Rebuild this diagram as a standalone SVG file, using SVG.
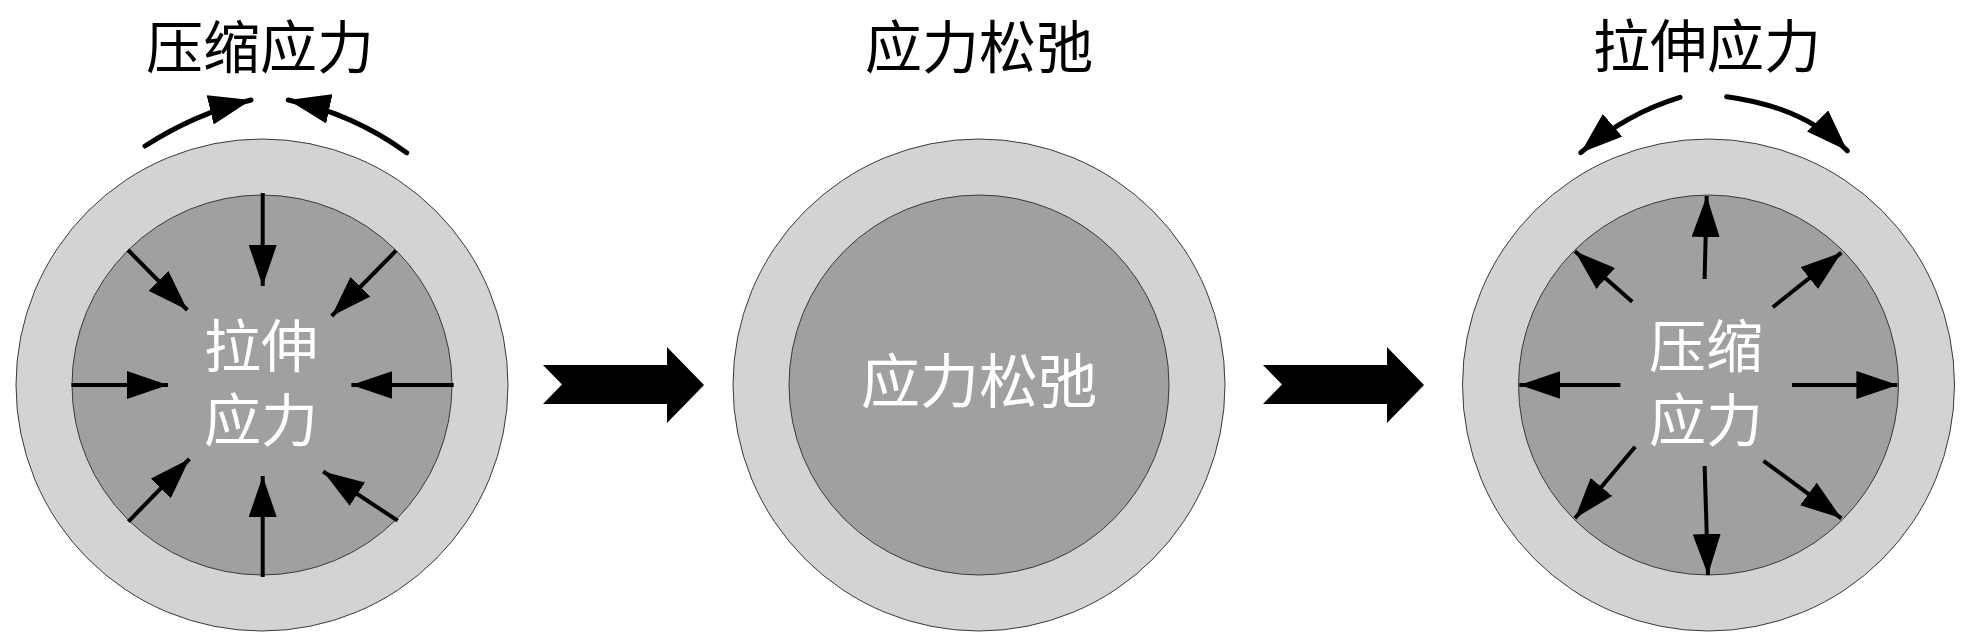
<svg xmlns="http://www.w3.org/2000/svg" width="1969" height="644" viewBox="0 0 1969 644">
<style>
.outer{fill:#d3d3d3;stroke:#3a3a3a;stroke-width:1}
.inner{fill:#a0a0a0;stroke:#3a3a3a;stroke-width:1}
.title{font-family:"Noto Sans CJK SC","Noto Sans CJK JP",sans-serif;font-size:57px;fill:#000;text-anchor:middle}
.label{font-family:"Noto Sans CJK SC","Noto Sans CJK JP",sans-serif;font-size:57px;fill:#fff;text-anchor:middle}
.sa{stroke:#000;stroke-width:4;fill:none;marker-end:url(#head)}
.ca{stroke:#000;stroke-width:5;fill:none;stroke-linecap:round;marker-end:url(#chead)}
.block{fill:#000}
</style>
<defs>
<marker id="head" markerUnits="userSpaceOnUse" markerWidth="41" markerHeight="28" refX="41" refY="14" orient="auto" viewBox="0 0 41 28">
<path d="M0,0 L41,14 L0,28 z" fill="#000"/>
</marker>
<marker id="chead" markerUnits="userSpaceOnUse" markerWidth="42" markerHeight="30" refX="42" refY="15" orient="auto" viewBox="0 0 42 30">
<path d="M0,0 L42,15 L0,30 z" fill="#000"/>
</marker>
</defs>
<rect width="1969" height="644" fill="#fff"/>

<g id="node-left">
<circle class="outer" cx="262" cy="385" r="246"/>
<circle class="inner" cx="262" cy="385" r="190"/>
<text class="title" x="260" y="68">压缩应力</text>
<text class="label" x="261" y="367">拉伸</text>
<text class="label" x="261" y="441">应力</text>
</g>

<g id="node-middle">
<circle class="outer" cx="979" cy="385" r="246"/>
<circle class="inner" cx="979" cy="385" r="190"/>
<text class="title" x="979" y="68">应力松弛</text>
<text class="label" x="979" y="403" style="font-size:59px">应力松弛</text>
</g>

<g id="node-right">
<circle class="outer" cx="1708.5" cy="385" r="246"/>
<circle class="inner" cx="1708.5" cy="385" r="190"/>
<text class="title" x="1707" y="67">拉伸应力</text>
<text class="label" x="1706" y="367">压缩</text>
<text class="label" x="1706" y="441">应力</text>
</g>

<g id="connectors">
<polygon class="block" points="543,365 667,365 667,347 704,385 667,423 667,404 543,404 562,384.5"/>
<polygon class="block" points="1263,365 1387,365 1387,347 1424,385 1387,423 1387,404 1263,404 1282,384.5"/>

<path class="ca" d="M145,146 Q196,113.3 251,100"/>
<path class="ca" d="M406.7,152.7 Q353.4,114 288.3,100"/>
<path class="ca" d="M1680,97.3 Q1626.5,113.4 1580.7,152.7"/>
<path class="ca" d="M1726.7,96.7 Q1803.4,106.8 1847.3,150.7"/>

<line class="sa" x1="262.7" y1="193" x2="262.7" y2="286"/>
<line class="sa" x1="262.7" y1="577" x2="262.7" y2="476"/>
<line class="sa" x1="71.5" y1="385" x2="168" y2="385"/>
<line class="sa" x1="453.7" y1="385" x2="351.4" y2="385"/>
<line class="sa" x1="128" y1="250" x2="187.3" y2="310"/>
<line class="sa" x1="396" y1="250.7" x2="331.7" y2="316"/>
<line class="sa" x1="128.4" y1="521.6" x2="189.4" y2="459"/>
<line class="sa" x1="397.7" y1="520.7" x2="323.2" y2="471.5"/>

<line class="sa" x1="1704.6" y1="279" x2="1706.7" y2="196"/>
<line class="sa" x1="1704.6" y1="466" x2="1708" y2="575"/>
<line class="sa" x1="1620.4" y1="385" x2="1519.4" y2="385"/>
<line class="sa" x1="1792" y1="385" x2="1897.4" y2="385"/>
<line class="sa" x1="1632.2" y1="301.8" x2="1575" y2="251.3"/>
<line class="sa" x1="1772.8" y1="307.2" x2="1841.4" y2="252.6"/>
<line class="sa" x1="1635.2" y1="446.8" x2="1575" y2="518.3"/>
<line class="sa" x1="1763.5" y1="460.8" x2="1841.4" y2="518.3"/>
</g>
</svg>
